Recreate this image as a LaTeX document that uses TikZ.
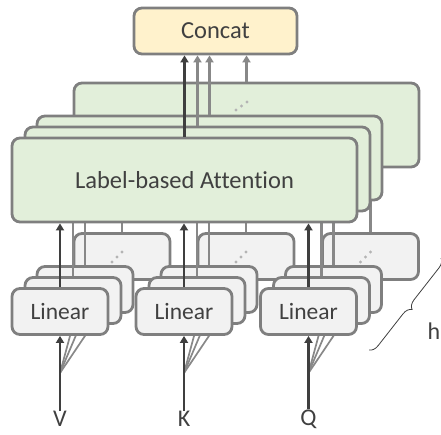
\documentclass[tikz,border=0pt]{standalone}
\usepackage{fontspec}
\setmainfont{Carlito}[Ligatures=NoCommon]
\usetikzlibrary{arrows.meta,decorations.pathreplacing,calc}
\definecolor{bordc}{HTML}{7F7F7F}
\definecolor{linec}{HTML}{888888}
\definecolor{darkc}{HTML}{3F3F3F}
\definecolor{txtc}{HTML}{404040}
\definecolor{greenf}{HTML}{E2EFDA}
\definecolor{yellowf}{HTML}{FFF2CC}
\definecolor{grayf}{HTML}{F2F2F2}
\definecolor{dotc}{HTML}{B4B4B4}
\begin{document}
\begin{tikzpicture}[x=1pt,y=-1pt,
  box/.style={draw=bordc, line width=2.8pt, rounded corners=8pt, inner sep=0pt, text=txtc},
  linbox/.style={box, fill=grayf, minimum width=96pt, minimum height=46pt, font=\fontsize{23.5}{26}\selectfont},
  attbox/.style={box, fill=greenf, minimum width=345pt, minimum height=84pt, font=\fontsize{24.5}{28}\selectfont},
  catbox/.style={box, fill=yellowf, minimum width=163pt, minimum height=46pt, font=\fontsize{24.5}{28}\selectfont},
  glink/.style={draw=linec, line width=2.5pt},
  garrow/.style={glink, -{Triangle[width=8pt,length=7pt]}},
  darrow/.style={draw=darkc, line width=2.4pt, -{Triangle[width=8pt,length=7pt]}},
  fan/.style={draw=linec, line width=1.7pt},
  lbl/.style={text=txtc, font=\fontsize{24}{28}\selectfont, inner sep=0pt},
  dotm/.style={fill=dotc, circle, inner sep=0pt, minimum size=3.4pt},
]
\useasboundingbox (0,0) rectangle (441,434);

% input labels and fan points
\node[lbl] (tV) at (60,419) {V};
\node[lbl] (tK) at (184,419) {K};
\node[lbl] (tQ) at (308.5,419) {Q};
\coordinate (fV) at (60,373);
\coordinate (fK) at (184,373);
\coordinate (fQ) at (308.5,373);

% concat
\node[catbox] (C) at (215.5,31) {Concat};

% layers back to front
\foreach \k/\dx/\dy in {3/62/-55, 2/25/-22, 1/13/-11} {
  \node[attbox] (A\k) at (184.5+\dx,180+\dy) {};
  \node[linbox] (V\k) at (60+\dx,311.5+\dy) {};
  \node[linbox] (K\k) at (184+\dx,311.5+\dy) {};
  \node[linbox] (Q\k) at (308.5+\dx,311.5+\dy) {};
  \foreach \g in {V,K,Q} {
    \draw[fan] (f\g) -- (\g\k.south);
    \draw[glink] (\g\k.north) -- (\g\k.north |- A\k.south);
  }
  \draw[garrow] (A\k.north) -- (A\k.north |- C.south);
  \ifnum\k=3
    \node[dotm] (ad1) at (236,110) {};
    \node[dotm] (ad2) at (241.5,106) {};
    \node[dotm] (ad3) at (247,102) {};
    \foreach \g in {V,K,Q} {
      \node[dotm] (\g d1) at ($(\g3.center)+(-10,5.5)$) {};
      \node[dotm] (\g d2) at ($(\g3.center)+(-5,0.5)$) {};
      \node[dotm] (\g d3) at ($(\g3.center)+(0,-4.5)$) {};
    }
  \fi
}

% front layer
\node[attbox] (A0) at (184.5,180) {Label-based Attention};
\node[linbox] (V0) at (60,311.5) {Linear};
\node[linbox] (K0) at (184,311.5) {Linear};
\node[linbox] (Q0) at (308.5,311.5) {Linear};
\draw[darrow] (A0.north) -- (A0.north |- C.south);
\foreach \g in {V,K,Q} {
  \draw[darrow] (\g0.north) -- (\g0.north |- A0.south);
  \draw[darrow] (t\g.north) -- (\g0.south);
}

% brace and h
\draw[draw=darkc, line width=0.8pt, decorate, decoration={brace, amplitude=9pt}] (441,258) -- (369,350);
\node[lbl] (h) at (434,331) {h};
\end{tikzpicture}
\end{document}
